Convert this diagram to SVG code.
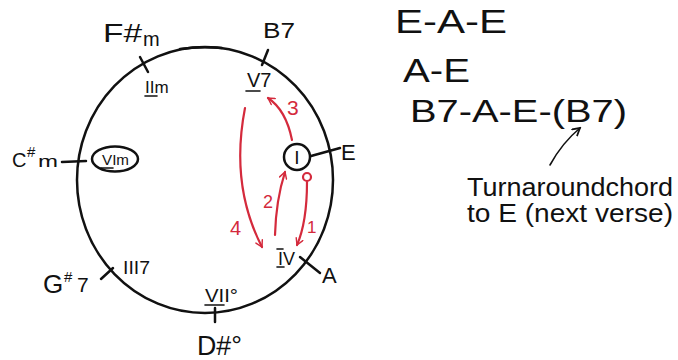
<svg xmlns="http://www.w3.org/2000/svg" width="678" height="360" viewBox="0 0 678 360">
<defs>
<style>
.t{font-family:"Liberation Sans",Arial,sans-serif;fill:#111}
.r{font-family:"Liberation Sans",Arial,sans-serif;fill:#d42a3c}
.k{stroke:#111;stroke-width:2.5;fill:none;stroke-linecap:round}
.thin{stroke:#111;stroke-width:1.6;fill:none;stroke-linecap:round}
.ra{stroke:#d42a3c;stroke-width:2.2;fill:none;stroke-linecap:round}
</style>
<marker id="ar" viewBox="0 0 10 10" refX="8" refY="5" markerWidth="9" markerHeight="9" markerUnits="userSpaceOnUse" orient="auto">
<path d="M1,1 L8,5 L1,9" fill="none" stroke="#d42a3c" stroke-width="1.6" stroke-linecap="round"/>
</marker>
<marker id="ak" viewBox="0 0 10 10" refX="8" refY="5" markerWidth="10" markerHeight="10" markerUnits="userSpaceOnUse" orient="auto">
<path d="M1,1 L8,5 L1,9" fill="none" stroke="#111" stroke-width="1.8" stroke-linecap="round"/>
</marker>
</defs>
<rect width="678" height="360" fill="#fff"/>

<g id="circle">
<ellipse cx="205" cy="180" rx="128" ry="133" class="k"/>
<path d="M180,49 Q200,46 222,48" class="k" stroke-width="3.5"/>
</g>

<g id="node-Fsm">
<line x1="140" y1="57" x2="148" y2="72" class="k"/>
<text class="t" x="103" y="42" font-size="26" textLength="39" lengthAdjust="spacingAndGlyphs">F#</text>
<text class="t" x="143" y="46" font-size="20">m</text>
<text class="t" x="145" y="93" font-size="17">II<tspan>m</tspan></text>
<line x1="145" y1="96" x2="157" y2="96" class="thin"/>
</g>

<g id="node-B7">
<line x1="268" y1="50" x2="262" y2="65" class="k"/>
<text class="t" x="263" y="38" font-size="22" textLength="32" lengthAdjust="spacingAndGlyphs">B7</text>
<text class="t" x="247" y="87" font-size="20">V7</text>
<line x1="246" y1="91" x2="260" y2="91" class="thin"/>
</g>

<g id="node-E">
<line x1="311" y1="156" x2="340" y2="148" class="k"/>
<circle cx="297" cy="157" r="13" class="k"/>
<text class="t" x="297" y="164" font-size="19" text-anchor="middle">I</text>
<text class="t" x="341" y="160" font-size="22">E</text>
</g>

<g id="node-Csm">
<line x1="62" y1="162" x2="86" y2="161" class="k"/>
<text class="t" x="12" y="167" font-size="20">C</text>
<text class="t" x="27" y="157" font-size="15">#</text>
<text class="t" x="38" y="167" font-size="17" textLength="20" lengthAdjust="spacingAndGlyphs">m</text>
<ellipse cx="115" cy="159" rx="23" ry="12.5" class="k"/>
<text class="t" x="102" y="165" font-size="15" textLength="27" lengthAdjust="spacingAndGlyphs">VIm</text>
<line x1="101" y1="168" x2="113" y2="168" class="thin"/>
</g>

<g id="node-Gs7">
<line x1="101" y1="279" x2="113" y2="268" class="k"/>
<text class="t" x="43" y="293" font-size="26">G</text>
<text class="t" x="64" y="282" font-size="15">#</text>
<text class="t" x="77" y="292" font-size="21">7</text>
<text class="t" x="123" y="274" font-size="18" textLength="27" lengthAdjust="spacingAndGlyphs">III7</text>
</g>

<g id="node-A">
<line x1="300" y1="257" x2="320" y2="273" class="k"/>
<text class="t" x="322" y="283" font-size="22">A</text>
<text class="t" x="278" y="265" font-size="18" textLength="17" lengthAdjust="spacingAndGlyphs">IV</text>
<line x1="277" y1="249" x2="283" y2="249" class="thin"/>
<line x1="277" y1="267" x2="284" y2="267" class="thin"/>
</g>

<g id="node-Ds">
<line x1="215" y1="308" x2="215" y2="322" class="k"/>
<text class="t" x="205" y="302" font-size="18" textLength="33" lengthAdjust="spacingAndGlyphs">VII°</text>
<line x1="205" y1="305" x2="224" y2="305" class="thin"/>
<text class="t" x="197" y="355" font-size="28" textLength="45" lengthAdjust="spacingAndGlyphs">D#°</text>
</g>

<g id="progressions">
<text class="t" x="395" y="33" font-size="33" textLength="112" lengthAdjust="spacingAndGlyphs">E-A-E</text>
<text class="t" x="403" y="82" font-size="33" textLength="67" lengthAdjust="spacingAndGlyphs">A-E</text>
<text class="t" x="410" y="122" font-size="31" textLength="217" lengthAdjust="spacingAndGlyphs">B7-A-E-(B7)</text>
<text class="t" x="467" y="196" font-size="25" textLength="206" lengthAdjust="spacingAndGlyphs">Turnaroundchord</text>
<text class="t" x="467" y="222" font-size="25" textLength="206" lengthAdjust="spacingAndGlyphs">to E (next verse)</text>
</g>

<g id="connectors">
<path d="M292,140 Q286,110 268,98" class="ra" marker-end="url(#ar)"/>
<path d="M245,108 Q230,185 262,247" class="ra" marker-end="url(#ar)"/>
<path d="M275,235 Q276,200 285,172" class="ra" marker-end="url(#ar)"/>
<circle cx="307" cy="177" r="4" class="ra"/>
<path d="M307,182 Q307,222 297,245" class="ra" marker-end="url(#ar)"/>
<path d="M550,165 Q562,143 580,128" class="thin" stroke-width="2" marker-end="url(#ak)"/>
<text class="r" x="287" y="115" font-size="21">3</text>
<text class="r" x="230" y="235" font-size="20">4</text>
<text class="r" x="263" y="208" font-size="18">2</text>
<text class="r" x="307" y="233" font-size="17">1</text>
</g>
</svg>
